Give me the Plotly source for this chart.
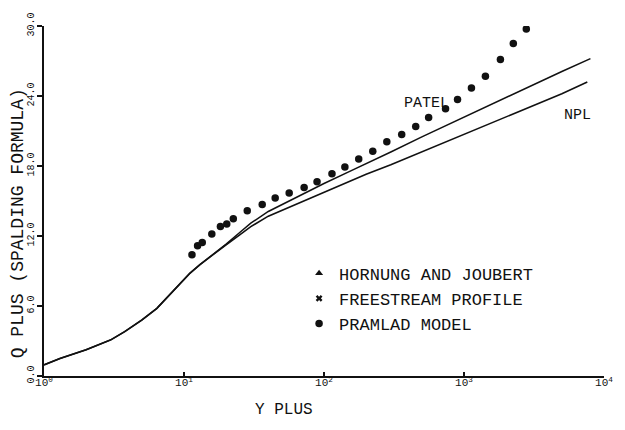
import plotly.graph_objects as go

# ---- data ----
yplus_curve_patel = [1, 1.3, 2, 3, 3.77, 5, 6.4, 8, 9.3, 11, 13, 16, 20, 25, 30, 40, 50, 70,
                     100, 150, 200, 300, 500, 1000, 2000, 3000, 5000, 8000]
q_patel = [0.95, 1.5, 2.25, 3.1, 3.8, 4.8, 5.8, 7.0, 7.9, 8.8, 9.55, 10.4, 11.3, 12.3, 13.1,
           14.1, 14.7, 15.6, 16.5, 17.5, 18.2, 19.2, 20.5, 22.2, 23.9, 24.9, 26.1, 27.2]

yplus_curve_npl = [1, 1.3, 2, 3, 3.77, 5, 6.4, 8, 9.3, 11, 13, 16, 20, 25, 30, 40, 50, 70,
                   100, 150, 200, 300, 500, 1000, 2000, 3000, 5000, 7600]
q_npl = [0.95, 1.5, 2.25, 3.1, 3.8, 4.8, 5.8, 7.0, 7.9, 8.8, 9.55, 10.4, 11.25, 12.1, 12.8,
         13.7, 14.2, 15.0, 15.8, 16.7, 17.3, 18.1, 19.2, 20.7, 22.2, 23.1, 24.2, 25.2]

yplus_pramlad = [11.4, 12.5, 13.5, 15.8, 18.2, 20.2, 22.5, 28.3, 36.2, 44.8, 56.4, 72.1, 89.2,
                 114, 141, 177, 223, 281, 359, 452, 559, 738, 899, 1130, 1422, 1820, 2250, 2786]
q_pramlad = [10.40, 11.16, 11.45, 12.17, 12.81, 13.02, 13.48, 14.16, 14.71, 15.26, 15.68, 16.15,
             16.65, 17.33, 17.92, 18.60, 19.27, 20.08, 20.71, 21.39, 22.15, 22.91, 23.71, 24.68,
             25.70, 27.13, 28.49, 29.75]

# legend-only series (no points visible in the reference)
yplus_hornung = [None]
q_hornung = [None]
yplus_freestream = [None]
q_freestream = [None]

x_tickvals = [1, 10, 100, 1000, 10000]
x_ticktext = ["10<sup>0</sup>", "10<sup>1</sup>", "10<sup>2</sup>", "10<sup>3</sup>", "10<sup>4</sup>"]
y_tickvals = [0, 6, 12, 18, 24, 30]
y_ticktext = ["0.0", "6.0", "12.0", "18.0", "24.0", "30.0"]

legend_names = ["HORNUNG AND JOUBERT", "FREESTREAM PROFILE", "PRAMLAD MODEL"]

FONT = "Liberation Mono"
INK = "#111111"

fig = go.Figure()
fig.add_trace(go.Scatter(x=yplus_curve_patel, y=q_patel, mode="lines",
                         line=dict(color=INK, width=1.5), showlegend=False, name="PATEL"))
fig.add_trace(go.Scatter(x=yplus_curve_npl, y=q_npl, mode="lines",
                         line=dict(color=INK, width=1.6), showlegend=False, name="NPL"))
fig.add_trace(go.Scatter(x=yplus_hornung, y=q_hornung, mode="markers", name=legend_names[0],
                         marker=dict(symbol="triangle-up", size=7, color=INK)))
fig.add_trace(go.Scatter(x=yplus_freestream, y=q_freestream, mode="markers", name=legend_names[1],
                         marker=dict(symbol="x", size=6, color=INK)))
fig.add_trace(go.Scatter(x=yplus_pramlad, y=q_pramlad, mode="markers", name=legend_names[2],
                         marker=dict(symbol="circle", size=7.5, color=INK)))

L, R, T, B = 44, 19, 21, 54
W, H = 625, 430
pw, ph = W - L - R, H - T - B


def px(xp):
    return (xp - L) / pw


def py(yp):
    return (H - B - yp) / ph


def note(text, xp, yp, size, angle=0):
    return dict(text=text, x=px(xp), y=py(yp), xref="paper", yref="paper",
                xanchor="center", yanchor="middle", showarrow=False, textangle=angle,
                font=dict(family=FONT, size=size, color=INK))


fig.update_layout(
    width=W, height=H,
    margin=dict(l=L, r=R, t=T, b=B, pad=0),
    paper_bgcolor="white", plot_bgcolor="white",
    font=dict(family=FONT, color=INK, size=12),
    showlegend=True,
    legend=dict(x=px(300), y=py(254), xanchor="left", yanchor="top",
                bgcolor="rgba(0,0,0,0)", borderwidth=0,
                font=dict(family=FONT, size=17, color=INK),
                itemwidth=30, tracegroupgap=0),
    xaxis=dict(type="log", range=[0, 4], tickvals=x_tickvals, ticktext=x_ticktext,
               showgrid=False, zeroline=False, showline=True, linecolor=INK, linewidth=2,
               ticks="inside", ticklen=4, tickcolor=INK, tickwidth=1.5,
               ticklabelstandoff=-5,
               tickfont=dict(family=FONT, size=11, color=INK), mirror=False),
    yaxis=dict(range=[0, 30], tickvals=y_tickvals, ticktext=y_ticktext, tickangle=-90,
               showgrid=False, zeroline=False, showline=True, linecolor=INK, linewidth=1.8,
               ticks="outside", ticklen=5, tickcolor=INK, tickwidth=1.5,
               ticklabelstandoff=-1,
               tickfont=dict(family=FONT, size=10, color=INK), mirror=False),
    annotations=[
        note("PATEL", 428, 100, 15),
        note("NPL", 579, 112, 15),
        note("Y PLUS", 285, 410, 16),
        note("Q PLUS (SPALDING FORMULA)", 18, 221, 18, -90),
    ],
)

fig.write_html("out.html", config={"displayModeBar": False},
               post_script="document.body.style.margin='0px';document.body.style.overflow='hidden';")
